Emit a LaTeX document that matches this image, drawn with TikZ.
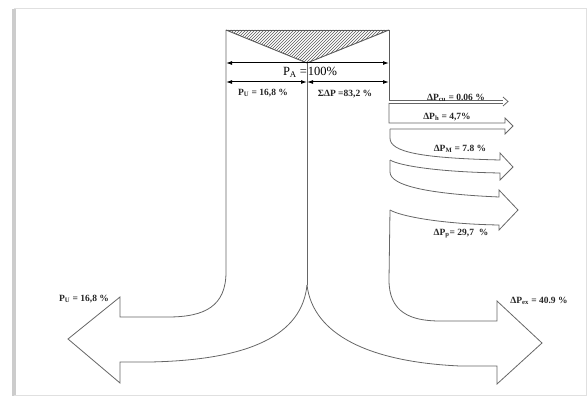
\documentclass[tikz,border=0pt]{standalone}
\usepackage{fontspec}
\setmainfont{Liberation Serif}
\usetikzlibrary{patterns,arrows.meta}

\tikzset{
	lbl/.style={font=\fontsize{9.5}{10}\selectfont\bfseries, text=black!85, inner sep=0pt},
	flow/.style={draw=black!60, line width=.8pt},
	boxline/.style={draw=black!65, line width=.9pt}
}

\begin{document}
\begin{tikzpicture}[x=1pt, y=-1pt]
				\useasboundingbox (0,0) rectangle (587,396);
				% frame
				\fill[black!20] (12,9) rectangle (16,396);
				\draw[black!12, line width=1pt] (14,9) -- (586,9) -- (586,395) -- (14,395);
				% input box
				\fill[pattern=north east lines, pattern color=black!65] (226,30) -- (389,30) -- (307,63) -- cycle;
				\draw[boxline] (226,30) -- (307,63) -- (389,30);
				\draw[boxline] (226,30) -- (389,30);
				\draw[boxline] (389,30) -- (389,100);
				\draw[flow] (307,63) -- (307,285);
				\draw[black, line width=1pt, {Latex[length=6pt,width=4pt]}-{Latex[length=6pt,width=4pt]}] (226,63) -- (389,63);
				\foreach \a/\b in {226/307, 307/389}
					\draw[black, line width=1pt, {Latex[length=6pt,width=4pt]}-{Latex[length=6pt,width=4pt]}] (\a,82) -- (\b,82);
				\node (pa) at (310,72) {\fontsize{12.5}{13}\selectfont P\textsubscript{A}\hspace{3pt}=\hspace{1pt}100\%};
				\node[lbl] (pu) at (263,93) {P\textsubscript{U} = 16,8 \%};
				\node[lbl] (sdp) at (345,94) {ΣΔP =83,2 \%};
				% useful output to the left
				\draw[flow] (226,30) -- (226,272) .. controls (226,306) and (205,317) .. (168,317) -- (120,317)
					-- (120,297) -- (68,339) -- (120,383) -- (120,362) -- (150,362)
					.. controls (250,360) and (302,335) .. (307,285);
				\node[lbl] (puout) at (84,299) {P\textsubscript{U} = 16,8 \%};
				% losses
				\draw[flow] (389,100) -- (503,100);
				\draw[flow] (389,103) -- (503,103);
				\draw[flow] (503,97) -- (508,101.5) -- (503,106);
				\node[lbl] (dpcu) at (456,98) {ΔP\textsubscript{cu} = 0.06 \%};
				\draw[flow] (389,103) -- (389,123) -- (505,123) -- (505,118) -- (513,126) -- (505,134) -- (505,129) -- (390,129);
				\node[lbl] (dph) at (447,117) {ΔP\textsubscript{h} = 4,7\%};
				\draw[flow] (390,129) -- (390,138) .. controls (390,152) and (420,158) .. (500,160)
					-- (500,153) -- (513,167) -- (500,180) -- (500,173)
					.. controls (440,172) and (400,166) .. (390,160);
				\node[lbl] (dpm) at (460,149) {ΔP\textsubscript{M} = 7.8 \%};
				\draw[flow] (390,160) -- (390,172) .. controls (390,186) and (430,194) .. (499,197)
					-- (499,190) -- (518,210) -- (499,230) -- (499,225)
					.. controls (440,224) and (400,216) .. (390,210);
				\node[lbl] (dpp) at (461,234) {ΔP\textsubscript{p}= 29,7 \ \%};
				\draw[flow] (390,210) -- (389,280) .. controls (389,312) and (410,321) .. (440,321) -- (497,321)
					-- (497,301) -- (542,343) -- (497,384) -- (497,366) -- (460,366)
					.. controls (370,362) and (313,335) .. (307,285);
				\node[lbl] (dpex) at (539,301) {ΔP\textsubscript{ex} = 40.9 \%};
			\end{tikzpicture}
\end{document}
